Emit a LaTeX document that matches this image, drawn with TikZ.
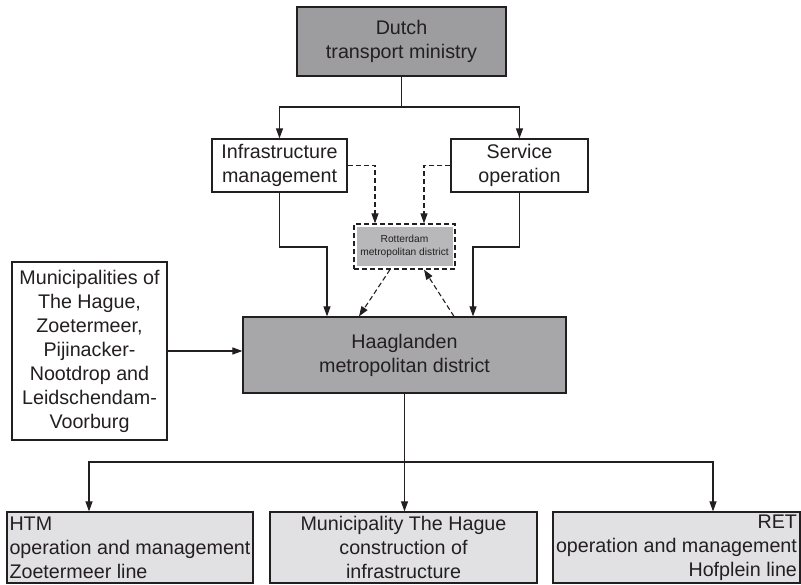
\documentclass[tikz,border=0pt]{standalone}
\usepackage{fontspec}
\setmainfont{Liberation Sans}
\usetikzlibrary{arrows.meta}
\definecolor{dutchfill}{HTML}{9D9D9F}
\definecolor{haagfill}{HTML}{A7A7A9}
\definecolor{rotfill}{HTML}{B8B8BA}
\definecolor{lowfill}{HTML}{E1E1E3}
\definecolor{txt}{HTML}{231F20}
\begin{document}
\begin{tikzpicture}[x=1pt,y=-1pt,
  font=\fontsize{19.7}{24}\selectfont,
  box/.style={draw=txt, line width=1.2pt, inner sep=0pt, align=center, text=txt},
  lowbox/.style={box, fill=lowfill, inner sep=0pt, minimum height=71pt},
  arr/.style={draw=txt, line width=1.1pt, -{Triangle[length=10pt,width=7pt]}},
  plain/.style={draw=txt, line width=1.1pt},
  dsh/.style={dash pattern=on 5pt off 3pt}]
\useasboundingbox (0,0) rectangle (801,585);

\node[box, fill=dutchfill, minimum width=209pt, minimum height=69pt] (dutch) at (401.5,41.5) {Dutch\\transport ministry};
\node[box, fill=white, minimum width=135pt, minimum height=53pt] (infra) at (279.5,165.5) {Infrastructure\\management};
\node[box, fill=white, minimum width=137pt, minimum height=53pt] (service) at (519.5,165.5) {Service\\operation};
\node[box, dsh, minimum width=101pt, minimum height=45pt] (rotf) at (404.5,246.5) {};
\node[box, draw=none, fill=rotfill, minimum width=96pt, minimum height=39pt, font=\fontsize{10.2}{13}\selectfont] (rot) at (404.5,246.5) {Rotterdam\\metropolitan district};
\node[box, fill=haagfill, minimum width=323pt, minimum height=76pt] (haag) at (404.5,355) {Haaglanden\\metropolitan district};
\node[box, fill=white, minimum width=155pt, minimum height=178pt] (mun) at (89.5,351) {Municipalities of\\The Hague,\\Zoetermeer,\\Pijinacker-\\Nootdrop and\\Leidschendam-\\Voorburg};
\node[lowbox, minimum width=246pt, align=left] (bl) at (130,547.5) {HTM\\operation and management\\Zoetermeer line};
\node[lowbox, minimum width=267pt, align=center] (bm) at (403.5,547.5) {Municipality The Hague\\construction of\\infrastructure};
\node[lowbox, minimum width=247pt, align=right] (br) at (676.5,547.5) {RET\\operation and management\\Hofplein line};

% ministry to the two branches
\coordinate (dj) at (dutch.south |- 0,107);
\draw[plain] (dutch.south) -- (dj);
\draw[arr] (dj) -| (infra.north);
\draw[arr] (dj) -| (service.north);

% dashed links to Rotterdam
\draw[arr, dsh] (infra.east) -| ([xshift=-29.5pt]rotf.north);
\draw[arr, dsh] (service.west) -| ([xshift=19.5pt]rotf.north);

% solid links to Haaglanden
\coordinate (hl) at ([xshift=-77.5pt]haag.north);
\coordinate (hr) at ([xshift=68.5pt]haag.north);
\draw[arr] (infra.south) |- (hl |- 0,247) -- (hl);
\draw[arr] (service.south) |- (hr |- 0,247) -- (hr);

% dashed links between Rotterdam and Haaglanden
\draw[arr, dsh] ([xshift=-14.5pt]rotf.south) -- ([xshift=-45.5pt]haag.north);
\draw[arr, dsh] ([xshift=49.5pt]haag.north) -- ([xshift=19.5pt]rotf.south);

% municipalities
\draw[arr] (mun.east) -- (mun.east -| haag.west);

% lower level
\coordinate (bj) at (haag.south |- 0,462);
\draw[arr] (haag.south) -- (bm.north -| haag.south);
\draw[arr] (bj) -| ([xshift=-41pt]bl.north);
\draw[arr] (bj) -| ([xshift=36.5pt]br.north);
\end{tikzpicture}
\end{document}
